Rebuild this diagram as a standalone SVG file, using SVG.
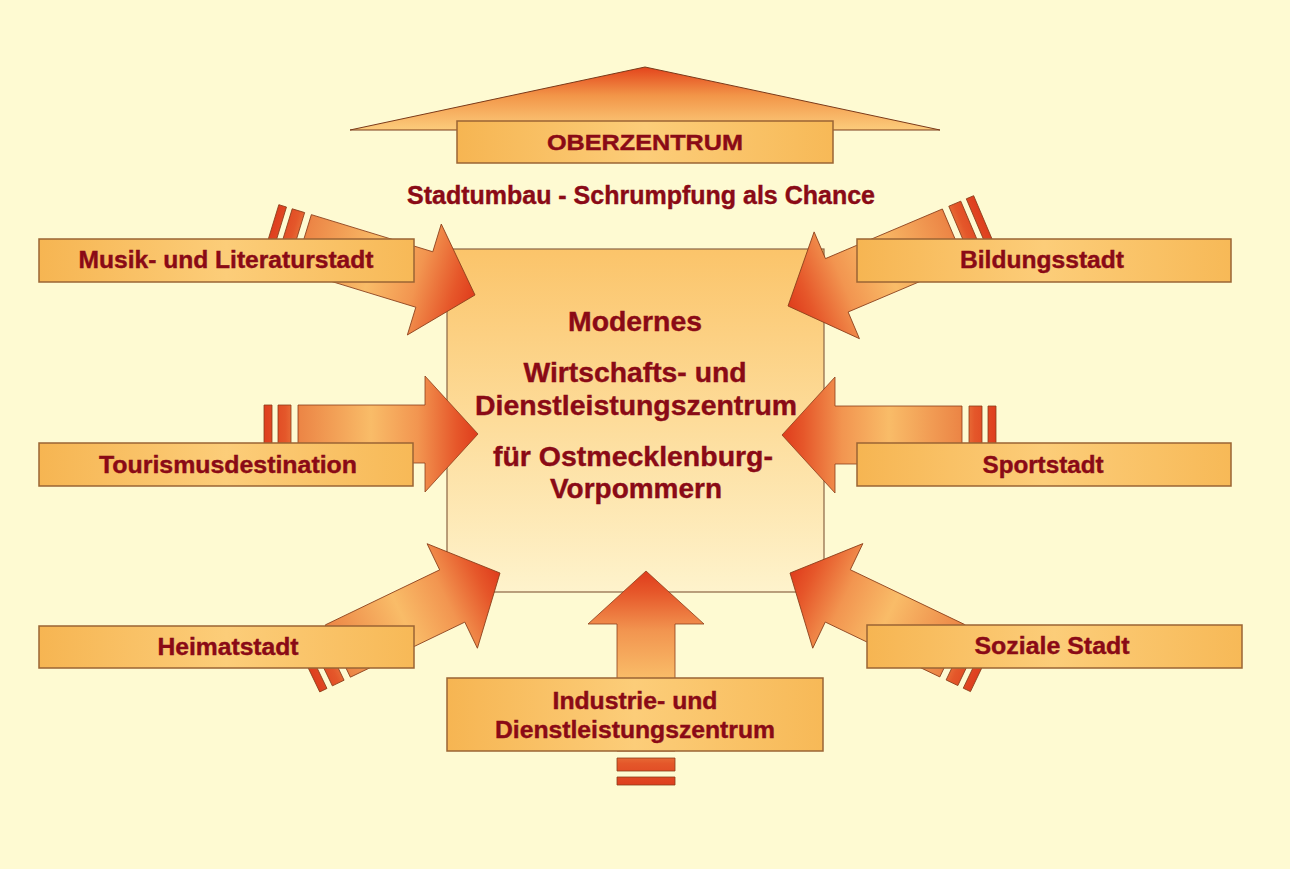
<svg xmlns="http://www.w3.org/2000/svg" width="1290" height="869" viewBox="0 0 1290 869">
<defs>
<style>
.lbl{fill:url(#boxGrad);stroke:#9A6434;stroke-width:1.5}
.t{font-family:"Liberation Sans",Arial,sans-serif;font-weight:bold;fill:#8A0A16;stroke:#8A0A16;stroke-width:0.4;text-anchor:middle}
.t23{font-size:23px}
.t28{font-size:28px}
.arrow{fill:url(#arrGrad);stroke:#8A3E1A;stroke-width:0.8}
</style>
<linearGradient id="boxGrad" x1="0" y1="0" x2="1" y2="0">
<stop offset="0" stop-color="#F6B552"/>
<stop offset="0.5" stop-color="#FCCD79"/>
<stop offset="1" stop-color="#F7B957"/>
</linearGradient>
<linearGradient id="centerGrad" x1="0" y1="0" x2="0" y2="1">
<stop offset="0" stop-color="#FBC46A"/>
<stop offset="0.5" stop-color="#FDDC9A"/>
<stop offset="1" stop-color="#FEF3CC"/>
</linearGradient>
<linearGradient id="triGrad" x1="0" y1="0" x2="0" y2="1">
<stop offset="0" stop-color="#E4441C"/>
<stop offset="0.45" stop-color="#F29548"/>
<stop offset="1" stop-color="#FCCC7C"/>
</linearGradient>
<linearGradient id="arrGrad" x1="0" y1="0" x2="1" y2="0">
<stop offset="0" stop-color="#DE3E1E"/>
<stop offset="0.1" stop-color="#E4572A"/>
<stop offset="0.17" stop-color="#EC8646"/>
<stop offset="0.5" stop-color="#F9BC68"/>
<stop offset="0.72" stop-color="#F29550"/>
<stop offset="0.9" stop-color="#E6572A"/>
<stop offset="1" stop-color="#DF3C1C"/>
</linearGradient>
<path id="barrow" d="M-180,-29 L-53,-29 L-53,-58 L0,0 L-53,58 L-53,29 L-180,29 Z M-200,-29 L-187,-29 L-187,29 L-200,29 Z M-214,-29 L-206,-29 L-206,29 L-214,29 Z"/>
</defs>
<rect width="1290" height="869" fill="#FEFAD2"/>

<g id="node-center">
<rect x="447" y="249" width="377" height="343" fill="url(#centerGrad)" stroke="#8A6444" stroke-width="1.2"/>
<text class="t t28" x="635" y="331" textLength="134" lengthAdjust="spacingAndGlyphs">Modernes</text>
<text class="t t28" x="635" y="382" textLength="223" lengthAdjust="spacingAndGlyphs">Wirtschafts- und</text>
<text class="t t28" x="636" y="415" textLength="322" lengthAdjust="spacingAndGlyphs">Dienstleistungszentrum</text>
<text class="t t28" x="633" y="466" textLength="280" lengthAdjust="spacingAndGlyphs">für Ostmecklenburg-</text>
<text class="t t28" x="636" y="498" textLength="172" lengthAdjust="spacingAndGlyphs">Vorpommern</text>
</g>

<g id="connectors">
<polygon id="arrow-top" points="645,67 940,130 350,130" fill="url(#triGrad)" stroke="#7A3A1A" stroke-width="1"/>
<use href="#barrow" class="arrow" transform="translate(475,295) rotate(17)"/>
<use href="#barrow" class="arrow" transform="translate(478,434)"/>
<use href="#barrow" class="arrow" transform="translate(500,573) rotate(-25.7)"/>
<use href="#barrow" class="arrow" transform="translate(646,571) rotate(-90)"/>
<use href="#barrow" class="arrow" transform="translate(788,306) rotate(157)"/>
<use href="#barrow" class="arrow" transform="translate(782,435) rotate(180)"/>
<use href="#barrow" class="arrow" transform="translate(790,573) rotate(205.6)"/>
</g>

<g id="node-oberzentrum">
<rect class="lbl" x="457" y="121" width="376" height="42"/>
<text class="t" x="645" y="150" font-size="22" textLength="196" lengthAdjust="spacingAndGlyphs">OBERZENTRUM</text>
</g>

<g id="title">
<text class="t" x="641" y="204" font-size="25" textLength="468" lengthAdjust="spacingAndGlyphs">Stadtumbau - Schrumpfung als Chance</text>
</g>

<g id="node-musik">
<rect class="lbl" x="39" y="239" width="375" height="43"/>
<text class="t t23" x="226" y="268" textLength="295" lengthAdjust="spacingAndGlyphs">Musik- und Literaturstadt</text>
</g>
<g id="node-tourismus">
<rect class="lbl" x="39" y="443" width="374" height="43"/>
<text class="t t23" x="228" y="473" textLength="258" lengthAdjust="spacingAndGlyphs">Tourismusdestination</text>
</g>
<g id="node-heimat">
<rect class="lbl" x="39" y="626" width="375" height="42"/>
<text class="t t23" x="228" y="655" textLength="141" lengthAdjust="spacingAndGlyphs">Heimatstadt</text>
</g>
<g id="node-bildung">
<rect class="lbl" x="857" y="239" width="374" height="43"/>
<text class="t t23" x="1042" y="268" textLength="164" lengthAdjust="spacingAndGlyphs">Bildungsstadt</text>
</g>
<g id="node-sport">
<rect class="lbl" x="857" y="443" width="374" height="43"/>
<text class="t t23" x="1043" y="473" textLength="121" lengthAdjust="spacingAndGlyphs">Sportstadt</text>
</g>
<g id="node-sozial">
<rect class="lbl" x="867" y="625" width="375" height="43"/>
<text class="t t23" x="1052" y="654" textLength="155" lengthAdjust="spacingAndGlyphs">Soziale Stadt</text>
</g>
<g id="node-industrie">
<rect class="lbl" x="447" y="678" width="376" height="73"/>
<text class="t t23" x="635" y="709" textLength="165" lengthAdjust="spacingAndGlyphs">Industrie- und</text>
<text class="t t23" x="635" y="738" textLength="280" lengthAdjust="spacingAndGlyphs">Dienstleistungszentrum</text>
</g>
</svg>
